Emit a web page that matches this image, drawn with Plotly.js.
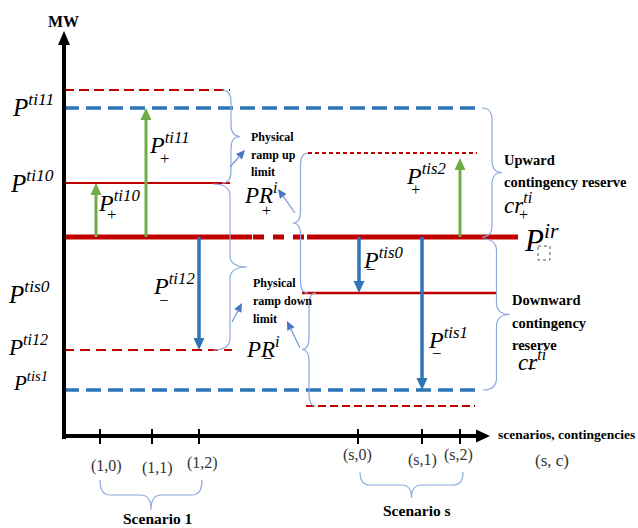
<!DOCTYPE html>
<html>
<head>
<meta charset="utf-8">
<script src="https://cdn.plot.ly/plotly-3.0.1.min.js"></script>
<style>html,body{margin:0;padding:0;background:#fff;}#chart{width:638px;height:528px;}</style>
</head>
<body>
<div id="chart"></div>
<script>
// ---------------- DATA (schematic units: horizontal = (s,c) position, vertical = MW level row) ----------------
const levelNames = ['P^ti11 ramp cap', 'P^ti11', 'P^tis2 cap', 'P^ti10', 'P^ir', 'P^tis0', 'P^ti12', 'P^tis1', 'P^tis1 cap'];
const levelMW    = [90, 108, 153, 183, 237, 293, 350, 390, 406];
const levelFrom  = [64, 64, 308, 64, 64, 302, 64, 64, 306];
const levelTo    = [230, 482, 477, 230, 518, 496, 232, 482, 475];
const irGap      = [252, 307];           // dashed part of the P^ir line

const caseLabels = ['(1,0)', '(1,1)', '(1,2)', '(s,0)', '(s,1)', '(s,2)'];
const caseX      = [100, 152, 199, 358, 422, 460];

const moveNames  = ['P+ti10', 'P+ti11', 'P-ti12', 'P-tis0', 'P-tis1', 'P+tis2'];
const moveX      = [96, 146, 199, 359, 422, 460];
const moveFrom   = [237, 237, 237, 237, 237, 237];
const moveTo     = [183, 108, 350, 293, 390, 158];

// braces: [start, end, base, width]  (vertical ones: start/end levels)
const braceV = [[90, 183, 222, 18], [184, 350, 213, 34], [153, 293, 308, -15], [293, 406, 316, -14], [108, 237, 482, 20], [239, 390, 483, 27]];
const braceH = [[100, 202, 480, 30], [360, 463, 472, 26]];
const scenarioNames = ['Scenario 1', 'Scenario s'];

// ---------------- STYLES ----------------
const RED = '#C00000', BLUE = '#2E75B6', GREEN = '#70AD47', LBLUE = '#8FAADC', PBLUE = '#4472C4';
const levelStyle = [
  {c: RED, w: 2, d: '10px,5px'}, {c: BLUE, w: 3.5, d: '15px,7px'}, {c: RED, w: 2, d: '4px,3px'},
  {c: RED, w: 2, d: 'solid'}, {c: RED, w: 5, d: 'solid'}, {c: RED, w: 2.5, d: 'solid'},
  {c: RED, w: 2, d: '10px,6px'}, {c: BLUE, w: 3.5, d: '15px,7px'}, {c: RED, w: 2, d: '8px,4px'}
];
const SERIF = 'Liberation Serif';

const traces = [];
levelMW.forEach((y, i) => {
  const st = levelStyle[i];
  if (levelNames[i] === 'P^ir') {
    traces.push({x: [levelFrom[i], irGap[0], null, irGap[1], levelTo[i]], y: [y, y, null, y, y], mode: 'lines',
      line: {color: st.c, width: st.w}, hoverinfo: 'skip', showlegend: false});
    traces.push({x: [irGap[0] + 1, irGap[1]], y: [y, y], mode: 'lines',
      line: {color: st.c, width: st.w, dash: '11px,9px'}, hoverinfo: 'skip', showlegend: false});
  } else {
    traces.push({x: [levelFrom[i], levelTo[i]], y: [y, y], mode: 'lines', name: levelNames[i],
      line: {color: st.c, width: st.w, dash: st.d}, hoverinfo: 'skip', showlegend: false});
  }
});

const shapes = [];
function tri(xh, yh, xt, yt, len, hw, color) {
  let dx = xh - xt, dy = yh - yt; const n = Math.hypot(dx, dy); dx /= n; dy /= n;
  const bx = xh - dx * len, by = yh - dy * len, px = -dy * hw, py = dx * hw;
  shapes.push({type: 'path', xref: 'x', yref: 'y', path: `M${xh},${yh} L${bx + px},${by + py} L${bx - px},${by - py} Z`,
    fillcolor: color, line: {width: 0}, layer: 'above'});
  return [bx + dx * 2, by + dy * 2];
}
function seg(x0, y0, x1, y1, color, width) {
  shapes.push({type: 'line', xref: 'x', yref: 'y', x0, y0, x1, y1, line: {color, width}, layer: 'above'});
}
// axes
seg(64, 439, 64, 44, '#000', 4);
tri(64, 31, 64, 437, 14, 6, '#000');
seg(62, 436, 478, 436, '#000', 4);
tri(490, 436, 62, 436, 14, 6.5, '#000');
caseX.forEach(x => seg(x, 429, x, 444, '#000', 2));

// move arrows
moveX.forEach((x, i) => {
  const col = moveTo[i] < moveFrom[i] ? GREEN : BLUE;
  const b = tri(x, moveTo[i], x, moveFrom[i], 12, 5.5, col);
  seg(x, moveFrom[i], x, b[1], col, moveTo[i] < moveFrom[i] ? 3 : 3.5);
});

// braces
braceV.forEach(([y0, y1, x0, w]) => {
  const xm = x0 + w / 2, xt = x0 + w, ym = (y0 + y1) / 2, q = Math.min(12, (y1 - y0) / 5);
  shapes.push({type: 'path', xref: 'x', yref: 'y', layer: 'above', line: {color: LBLUE, width: 1.2},
    path: `M${x0},${y0} Q${xm},${y0} ${xm},${y0 + q} L${xm},${ym - q} Q${xm},${ym} ${xt},${ym} Q${xm},${ym} ${xm},${ym + q} L${xm},${y1 - q} Q${xm},${y1} ${x0},${y1}`});
});
braceH.forEach(([x0, x1, y0, h]) => {
  const ym = y0 + h / 2, yt = y0 + h, xm = (x0 + x1) / 2, q = 10;
  shapes.push({type: 'path', xref: 'x', yref: 'y', layer: 'above', line: {color: LBLUE, width: 1.2},
    path: `M${x0},${y0} Q${x0},${ym} ${x0 + q},${ym} L${xm - q},${ym} Q${xm},${ym} ${xm},${yt} Q${xm},${ym} ${xm + q},${ym} L${x1 - q},${ym} Q${x1},${ym} ${x1},${y0}`});
});
// pointer arrows
[[230, 167, 245, 150], [295, 213, 278, 189], [232, 322, 242, 303], [300, 348, 287, 321]].forEach(([xt, yt, xh, yh]) => {
  const b = tri(xh, yh, xt, yt, 9, 4, PBLUE);
  seg(xt, yt, b[0], b[1], '#6F97D6', 1.2);
});
// dotted placeholder box under P^ir
shapes.push({type: 'rect', xref: 'x', yref: 'y', x0: 538, x1: 550, y0: 246, y1: 260, line: {color: '#555', width: 1, dash: 'dot'}});

// ---------------- TEXT ----------------
const ann = [];
function txt(x, y, text, size, opts = {}) {
  let t = text;
  if (opts.bold) t = '<b>' + t + '</b>';
  if (opts.italic) t = '<i>' + t + '</i>';
  ann.push(Object.assign({x, y, xref: 'x', yref: 'y', text: t, showarrow: false, xanchor: 'left', yanchor: 'middle',
    font: {family: SERIF, size, color: opts.color || '#000'}}, opts.extra || {}));
}
// math labels: [base, sup, sub, x, yCenter, size, subX, subY, anchor]
const mathLabels = [
  ['P', 'ti11', '', 56, 108, 25, 0, 0, 'right'],
  ['P', 'ti10', '', 56, 184, 25, 0, 0, 'right'],
  ['P', 'tis0', '', 52, 295, 25, 0, 0, 'right'],
  ['P', 'ti12', '', 50, 348, 23, 0, 0, 'right'],
  ['P', 'tis1', '', 50, 384, 21, 0, 0, 'right'],
  ['P', 'ti11', '+', 147, 146, 24, 164, 158],
  ['P', 'ti10', '+', 96, 204, 24, 111, 214],
  ['P', 'ti12', '−', 151, 287, 24, 163, 300],
  ['P', 'tis0', '−', 361, 261, 24, 370, 269],
  ['P', 'tis1', '−', 426, 341, 24, 436, 353],
  ['P', 'tis2', '+', 404, 177, 24, 415, 189],
  ['PR', 'i', '+', 242, 196, 23, 266, 210],
  ['PR', 'i', '−', 244, 350, 23, 267, 358],
  ['cr', 'ti', '+', 502, 206, 23, 523, 214],
  ['cr', 'ti', '−', 516, 363, 23, 531, 368],
  ['P', 'ir', '', 522, 242, 31, 0, 0]
];
mathLabels.forEach(([b, sp, sb, x, y, s, sx, sy, anc]) => {
  txt(x, y - s * 0.12, b + '<sup>' + sp + '</sup>', s, {italic: true, extra: {xanchor: anc || 'left'}});
  if (sb) txt(sx, sy, sb, s * 0.7, {extra: {xanchor: 'center'}});
});
txt(63, 21, 'MW', 16, {bold: true, extra: {xanchor: 'center'}});
[['Physical', 249, 137], ['ramp up', 249, 155], ['limit', 249, 172],
 ['Physical', 251, 283], ['ramp down', 251, 301], ['limit', 251, 319],
 ['Upward', 502, 160], ['contingency reserve', 502, 182],
 ['Downward', 510, 300], ['contingency', 510, 323], ['reserve', 510, 345]].forEach(([t, x, y], i) => {
  txt(x, y, t, i < 6 ? 12 : 14.5, {bold: true});
});
txt(496, 434, 'scenarios, contingencies', 13.5, {bold: true});
txt(552, 460, '(s, c)', 17, {color: '#333', extra: {xanchor: 'center'}});
const caseLabelX = [106, 157, 202, 357, 422, 458];
const caseLabelY = [466, 468, 463, 455, 460, 455];
caseLabels.forEach((t, i) => txt(caseLabelX[i], caseLabelY[i], t, 16, {color: '#333', extra: {xanchor: 'center'}}));
txt(157, 518, scenarioNames[0], 15.5, {bold: true, extra: {xanchor: 'center'}});
txt(417, 510, scenarioNames[1], 15.5, {bold: true, extra: {xanchor: 'center'}});

const layout = {
  width: 638, height: 528, margin: {l: 0, r: 0, t: 0, b: 0, pad: 0},
  paper_bgcolor: '#fff', plot_bgcolor: '#fff', showlegend: false,
  font: {family: SERIF},
  xaxis: {range: [0, 638], visible: false, fixedrange: true},
  yaxis: {range: [528, 0], visible: false, fixedrange: true},
  shapes, annotations: ann
};
Plotly.newPlot('chart', traces, layout, {displayModeBar: false, staticPlot: true});
</script>
</body>
</html>
